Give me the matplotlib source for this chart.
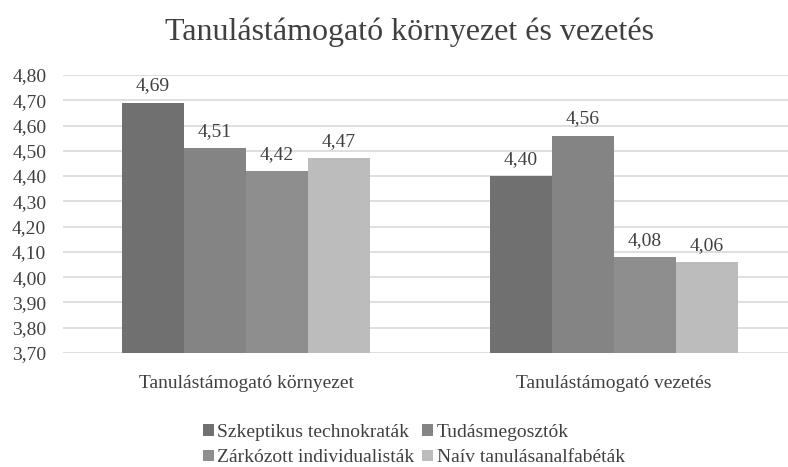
import matplotlib
matplotlib.use("Agg")
import matplotlib.pyplot as plt
import numpy as np

categories = ["Tanulástámogató környezet", "Tanulástámogató vezetés"]
series = ["Szkeptikus technokraták", "Tudásmegosztók",
          "Zárkózott individualisták", "Naív tanulásanalfabéták"]
values = [
    [4.69, 4.40],
    [4.51, 4.56],
    [4.42, 4.08],
    [4.47, 4.06],
]
labels = [
    ["4,69", "4,40"],
    ["4,51", "4,56"],
    ["4,42", "4,08"],
    ["4,47", "4,06"],
]
yticks = [3.70, 3.80, 3.90, 4.00, 4.10, 4.20, 4.30, 4.40, 4.50, 4.60, 4.70, 4.80]
colors = ["#707070", "#848484", "#8e8e8e", "#bcbcbc"]

plt.rcParams['font.family'] = ['Liberation Serif', 'DejaVu Serif']

fig = plt.figure(figsize=(7.88, 4.67), dpi=100)
ax = fig.add_axes([63/788, 1-353/467, 1-63/788, (353-75)/467])

x = np.arange(len(categories))
w = 62/368
bars = []
for i, (s, v) in enumerate(zip(series, values)):
    pos = x + (i - 1.5) * w
    b = ax.bar(pos, v, width=w, color=colors[i], label=s, zorder=2)
    bars.append(b)
    for p, val, lab in zip(pos, v, labels[i]):
        ax.annotate(lab, (p, val), xytext=(0, 6), textcoords="offset points",
                    ha="center", va="bottom", fontsize=14, color="#404040")

ax.set_ylim(3.70, 4.80)
ax.set_xlim((63-246)/368, (788-246)/368)
ax.set_yticks(yticks)
ax.set_yticklabels([f"{t:.2f}".replace(".", ",") for t in yticks], fontsize=14, color="#404040")
ax.set_xticks(x)
ax.set_xticklabels(categories, fontsize=14, color="#404040")
ax.tick_params(axis="both", length=0)
ax.tick_params(axis="y", pad=12)
ax.tick_params(axis="x", pad=16)
ax.grid(axis="y", color="#d9d9d9", linewidth=1.2, zorder=0)
for sp in ax.spines.values():
    sp.set_visible(False)

fig.suptitle("Tanulástámogató környezet és vezetés", x=410/788, y=1-32/467,
             va="center", fontsize=23, color="#404040")

order = [0, 2, 1, 3]
leg = fig.legend([bars[i] for i in order], [series[i] for i in order],
                 loc="center", bbox_to_anchor=(414/788, 1-445/467), ncol=2,
                 frameon=False, fontsize=14, handlelength=0.55, handleheight=0.55,
                 handletextpad=0.2, columnspacing=0.4, labelspacing=0.45,
                 labelcolor="#404040")

fig.savefig("out.png", dpi=100)
